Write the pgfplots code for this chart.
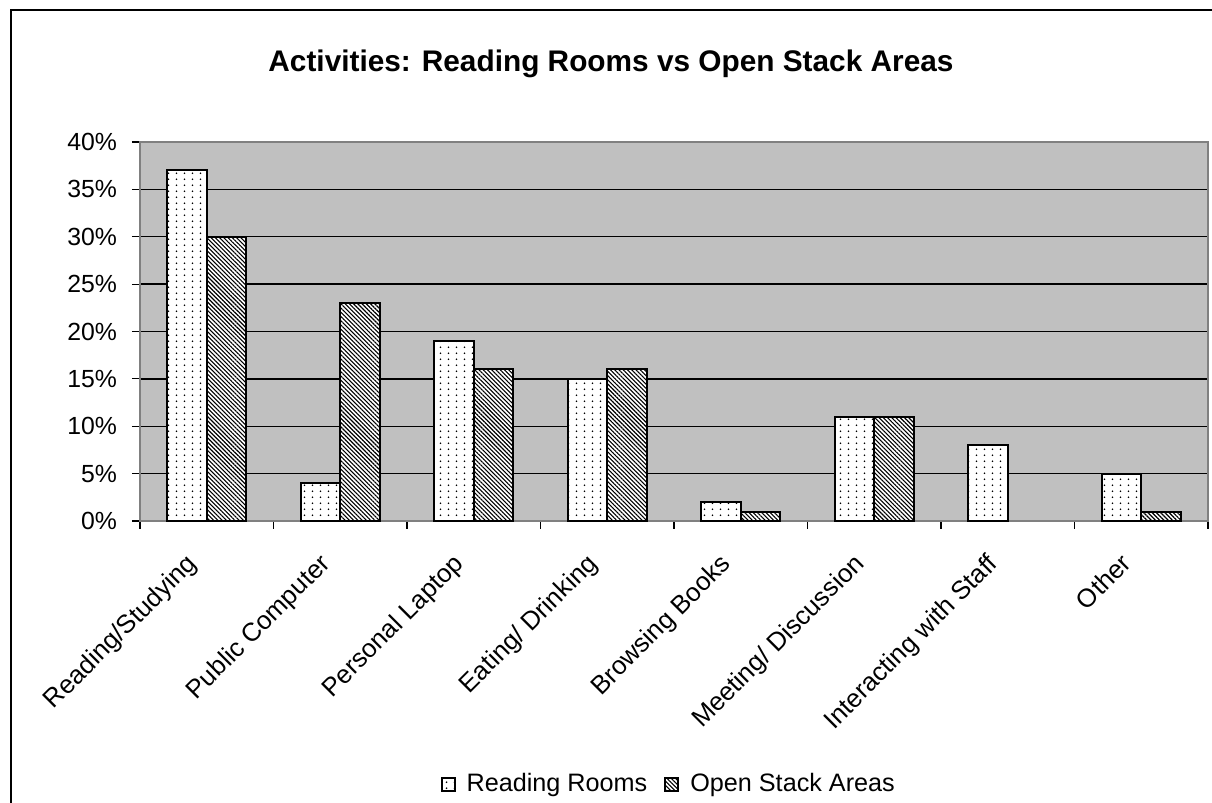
\documentclass[border=0pt]{standalone}
\usepackage{fontspec}
\setmainfont{Liberation Sans}
\usepackage{pgfplots}
\pgfplotsset{compat=1.18}
\usetikzlibrary{patterns.meta}
\definecolor{plotgray}{RGB}{192,192,192}
\definecolor{framegray}{RGB}{128,128,128}

% sparse dot fill for the first series
\pgfdeclarepattern{
  name=sparsedots,
  type=uncolored,
  bottom left={\pgfpoint{0pt}{0pt}},
  top right={\pgfpoint{3.75pt}{3.1pt}},
  tile size={\pgfpoint{3.75pt}{3.1pt}},
  code={\pgfpathcircle{\pgfpoint{1.875pt}{1.55pt}}{0.5pt}\pgfusepath{fill}}
}

\begin{document}
\begin{tikzpicture}
\useasboundingbox (0pt,0pt) rectangle (606pt,401.5pt);
% chart area frame
\draw[line width=0.75pt] (5.5pt,-10pt) -- (5.5pt,396.5pt) -- (620pt,396.5pt);
\node[anchor=base, font=\fontsize{14.9}{18}\selectfont\bfseries] at (305.5pt,365.5pt)
  {Activities: Reading Rooms vs Open Stack Areas};
\begin{axis}[
  at={(70pt,141pt)}, anchor=south west, scale only axis,
  width=534pt, height=189.5pt,
  ybar=0pt, bar width=0.295,
  xmin=-0.5, xmax=7.5, ymin=0, ymax=40,
  axis background/.style={fill=plotgray},
  axis line style={draw=framegray, line width=1pt},
  xtick pos=bottom, ytick pos=left,
  xtick={0,...,7},
  xticklabels={Reading/Studying, Public Computer, Personal Laptop, Eating/ Drinking,
    Browsing Books, Meeting/ Discussion, Interacting with Staff, Other},
  minor xtick={-0.5,0.5,...,7.5},
  major x tick style={draw=none},
  minor x tick style={draw=black, line width=0.6pt},
  minor tick length=4pt,
  xtick align=outside,
  ytick={0,5,...,40},
  yticklabels={0\%,5\%,10\%,15\%,20\%,25\%,30\%,35\%,40\%},
  ytick align=outside,
  y tick style={draw=black, line width=0.6pt},
  major tick length=4pt,
  ymajorgrids, grid style={draw=black, line width=0.7pt},
  yticklabel style={font=\fontsize{12.4}{14}\selectfont, xshift=-4pt},
  xticklabel style={font=\fontsize{12.9}{15}\selectfont, xshift=-11pt, yshift=-8.5pt,
    rotate=45, anchor=north east, inner sep=2pt},
  legend style={at={(0.496,-0.694)}, anchor=center, draw=none, fill=none,
    legend columns=2, font=\fontsize{12.6}{15}\selectfont,
    /tikz/every odd column/.append style={column sep=3.5pt},
    /tikz/every even column/.append style={column sep=6.5pt}},
  legend image code/.code={\draw[#1] (0pt,-3.25pt) rectangle (6.5pt,3.25pt);},
  clip=false,
]
\addplot[draw=black, line width=1pt, fill=white,
  postaction={pattern=sparsedots, pattern color=black}]
  coordinates {(0,37) (1,4) (2,19) (3,15) (4,2) (5,11) (6,8) (7,5)};
\addplot[draw=black, line width=1pt, fill=white,
  postaction={pattern={Lines[angle=-45, distance=1.5pt, line width=0.55pt]}, pattern color=black}]
  coordinates {(0,30) (1,23) (2,16) (3,16) (4,1) (5,11) (7,1)};
\legend{Reading Rooms, Open Stack Areas}
\end{axis}
\end{tikzpicture}
\end{document}
